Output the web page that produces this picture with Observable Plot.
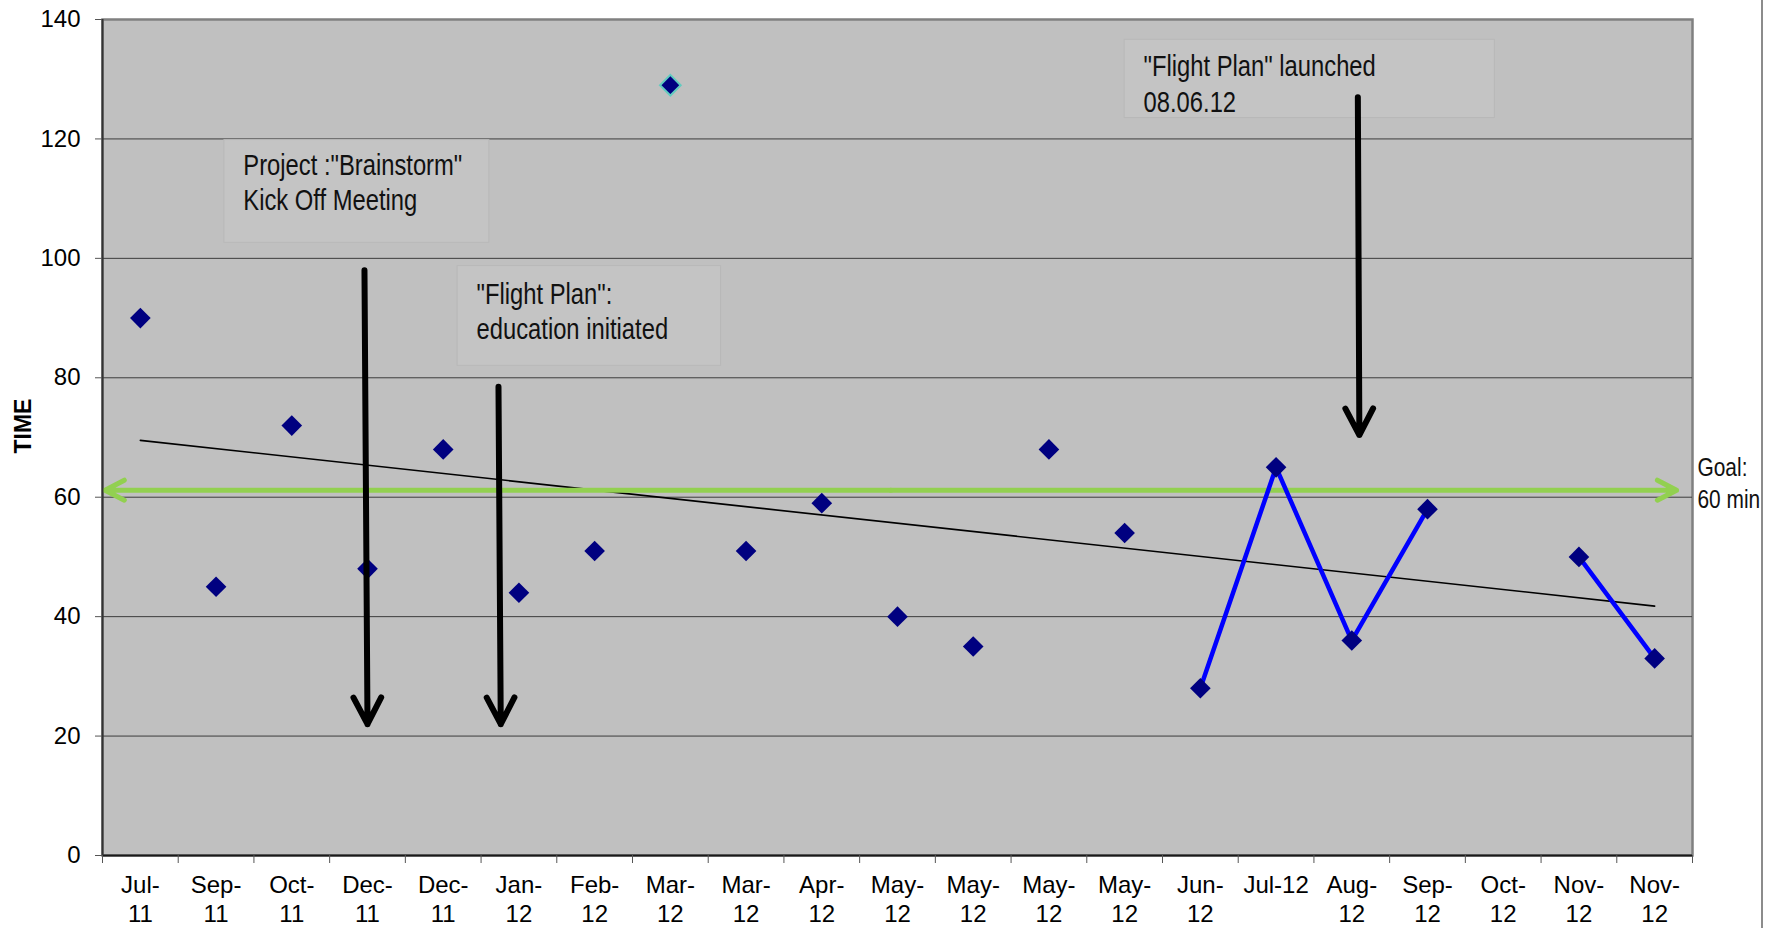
<!DOCTYPE html>
<html>
<head>
<meta charset="utf-8">
<script src="https://cdn.jsdelivr.net/npm/d3@7"></script>
<script src="https://cdn.jsdelivr.net/npm/@observablehq/plot@0.6"></script>
<style>
  body { margin: 0; background: #ffffff; }
  #chart { position: relative; width: 1783px; height: 928px; }
  #chart .edge { position: absolute; left: 1761px; top: 0; width: 2px; height: 928px; background: #8c8c8c; }
  #chart svg { position: absolute; left: 0; top: 0; overflow: visible; }
</style>
</head>
<body>
<div id="chart"><div class="edge"></div></div>
<script>
// Monthly measurements (minutes); Oct-12 has no value
const months = ["Jul-11","Sep-11","Oct-11","Dec-11","Dec-11","Jan-12","Feb-12","Mar-12","Mar-12","Apr-12",
  "May-12","May-12","May-12","May-12","Jun-12","Jul-12","Aug-12","Sep-12","Oct-12","Nov-12","Nov-12"];
const times = [90,45,72,48,68,44,51,129,51,59,40,35,68,54,28,65,36,58,null,50,33];
const tickLabels = ["Jul-\n11","Sep-\n11","Oct-\n11","Dec-\n11","Dec-\n11","Jan-\n12","Feb-\n12","Mar-\n12","Mar-\n12","Apr-\n12",
  "May-\n12","May-\n12","May-\n12","May-\n12","Jun-\n12","Jul-12","Aug-\n12","Sep-\n12","Oct-\n12","Nov-\n12","Nov-\n12"];
const yTicks = [0, 20, 40, 60, 80, 100, 120, 140];

// from Jun-12 on, consecutive months are joined by a line
const joinedFrom = 14;
// the Mar-12 reading of 129 carries a highlighted outline
const outlined = [7];

// target time
const goal = 60;
const goalLabel = "Goal:\n60 min";
const goalSpan = [-0.466, 20.29];

// annotation boxes (category index / minutes)
const noteText = ['Project :"Brainstorm"\nKick Off Meeting', '"Flight Plan":\neducation initiated', '"Flight Plan" launched\n08.06.12'];
const noteBoxX = [[1.11, 4.61], [4.19, 7.67], [13.0, 17.89]];
const noteBoxY = [[102.6, 119.8], [82.0, 98.7], [123.5, 136.6]];
const noteAt = [[1.36, 112.9], [4.44, 91.3], [13.25, 129.4]];

// event pointers
const pointerFrom = [[2.96, 98], [4.73, 78.5], [16.08, 127]];
const pointerTo = [[3.0, 22], [4.76, 22], [16.1, 70.4]];

const rows = months.map((m, i) => ({i, month: m, time: times[i]}));
const points = rows.filter(d => d.time != null);
const joined = rows.filter(d => d.i >= joinedFrom);
const notes = noteText.map((t, k) => ({
  text: t, x1: noteBoxX[k][0], x2: noteBoxX[k][1], y1: noteBoxY[k][0], y2: noteBoxY[k][1],
  tx: noteAt[k][0], ty: noteAt[k][1]
}));
const pointers = pointerFrom.map((p, k) => ({x1: p[0], y1: p[1], x2: pointerTo[k][0], y2: pointerTo[k][1]}));
const mid = (goalSpan[0] + goalSpan[1]) / 2;
const goalArrows = goalSpan.map(x => ({x1: mid, x2: x, y: goal}));

const chart = Plot.plot({
  width: 1783,
  height: 928,
  marginLeft: 102,
  marginRight: 91,
  marginTop: 19,
  marginBottom: 73,
  style: {fontFamily: '"Liberation Sans", Arial, sans-serif', fontSize: "24px", color: "#000", background: "transparent"},
  x: {type: "linear", domain: [-0.5, 20.5]},
  y: {domain: [0, 140]},
  marks: [
    Plot.frame({fill: "#c0c0c0", stroke: "#808080", strokeWidth: 2.5}),
    Plot.gridY(yTicks.filter(t => t > 0 && t < 140), {stroke: "#3c3c3c", strokeOpacity: 1, strokeWidth: 1}),
    Plot.rect(notes, {x1: "x1", x2: "x2", y1: "y1", y2: "y2", fill: "#c4c4c4", stroke: "#b8b8b8", strokeWidth: 1}),
    Plot.linearRegressionY(points, {x: "i", y: "time", stroke: "#000", strokeWidth: 1.6, ci: 0}),
    Plot.arrow(goalArrows, {x1: "x1", x2: "x2", y1: "y", y2: "y", dy: -7, stroke: "#92d050", strokeWidth: 5, headAngle: 55, headLength: 6.5}),
    Plot.line(joined, {x: "i", y: "time", stroke: "#0000ff", strokeWidth: 4.5}),
    Plot.dot(points, {x: "i", y: "time", symbol: "diamond2", r: 9.3, fill: "#000080", stroke: "none"}),
    Plot.dot(points.filter(d => outlined.includes(d.i)), {x: "i", y: "time", symbol: "diamond2", r: 9.3, fill: "#000080", stroke: "#62cbbf", strokeWidth: 2}),
    Plot.arrow(pointers, {x1: "x1", y1: "y1", x2: "x2", y2: "y2", stroke: "#000", strokeWidth: 6, headAngle: 55, headLength: 7.5}),
    Plot.text(notes, {x: "tx", y: "ty", text: "text", textAnchor: "start", lineAnchor: "middle", lineHeight: 1.22, fontSize: 29, fill: "#111"}),
    Plot.text([goalLabel], {x: 20.5, y: 62.6, dx: 5, textAnchor: "start", lineAnchor: "middle", lineHeight: 1.28, fontSize: 25.5, fill: "#111"}),
    Plot.text(["TIME"], {frameAnchor: "left", dx: -79, dy: 16, rotate: -90, fontSize: 23, fontWeight: "bold"}),
    Plot.ruleY([0], {stroke: "#1a1a1a", strokeWidth: 2}),
    Plot.ruleX([-0.5], {stroke: "#333", strokeWidth: 2}),
    Plot.axisY({ticks: yTicks, tickSize: 7, tickPadding: 15, fontSize: 24, label: null, stroke: "#555"}),
    Plot.axisX({ticks: d3.range(0, 21), tickFormat: i => tickLabels[i], tickSize: 0, tickPadding: 17, fontSize: 24, lineHeight: 1.2, label: null}),
    Plot.axisX({ticks: d3.range(-0.5, 21, 1), tickFormat: () => "", tickSize: 8, label: null, stroke: "#555"})
  ]
});

document.getElementById("chart").appendChild(chart);

// annotation texts are set in a narrow face: condense them horizontally about their left edge
const narrowTexts = [...noteText, goalLabel].map(t => t.replace(/\n/g, ""));
d3.select(chart).selectAll("text").each(function () {
  if (!narrowTexts.includes(this.textContent)) return;
  const bx = this.getBBox().x;
  const t = this.getAttribute("transform") || "";
  this.setAttribute("transform", `${t} translate(${bx},0) scale(0.82,1) translate(${-bx},0)`);
});
</script>
</body>
</html>
